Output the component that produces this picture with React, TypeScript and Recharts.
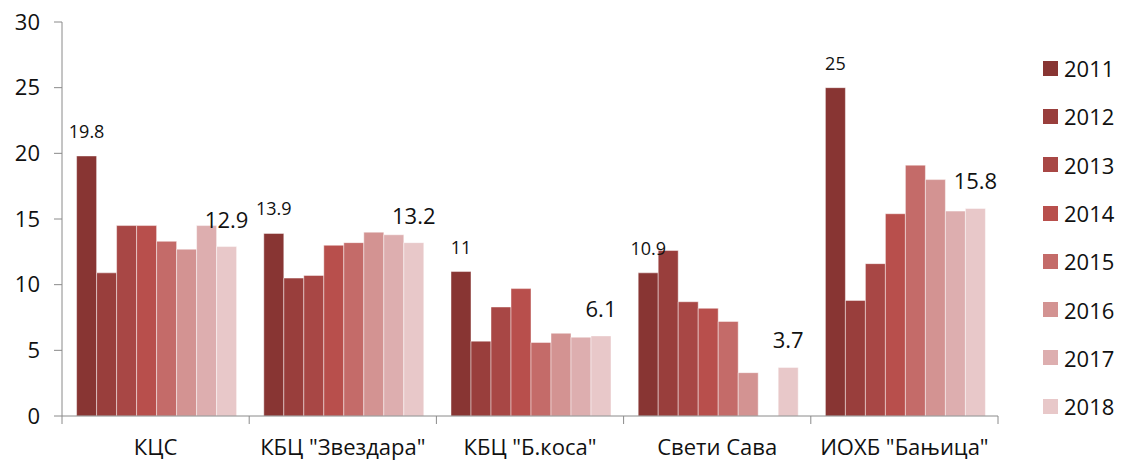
import React from 'react';
import { BarChart, Bar, XAxis, YAxis, LabelList } from 'recharts';

const categories = ['КЦС', 'КБЦ "Звездара"', 'КБЦ "Б.коса"', 'Свети Сава', 'ИОХБ "Бањица"'];
const years = ['2011', '2012', '2013', '2014', '2015', '2016', '2017', '2018'];

const v2011 = [19.8, 13.9, 11, 10.9, 25];
const v2012 = [10.9, 10.5, 5.7, 12.6, 8.8];
const v2013 = [14.5, 10.7, 8.3, 8.7, 11.6];
const v2014 = [14.5, 13.0, 9.7, 8.2, 15.4];
const v2015 = [13.3, 13.2, 5.6, 7.2, 19.1];
const v2016 = [12.7, 14.0, 6.3, 3.3, 18.0];
const v2017 = [14.5, 13.8, 6.0, null, 15.6];
const v2018 = [12.9, 13.2, 6.1, 3.7, 15.8];

const yTicks = [0, 5, 10, 15, 20, 25, 30];

const colors = ['#883533', '#993e3c', '#a84745', '#b84f4c', '#c46b69', '#d39392', '#ddaeaf', '#e8c8c9'];

const seriesValues = [v2011, v2012, v2013, v2014, v2015, v2016, v2017, v2018];

const data = categories.map((name, i) => {
  const row: Record<string, string | number | null> = { name };
  years.forEach((y, k) => {
    row[y] = seriesValues[k][i];
  });
  return row;
});

const FONT = '"Open Sans", "Noto Sans", sans-serif';
const AXIS = '#8a8a8a';
const PLOT_LEFT = 62;
const PLOT_RIGHT = 998;
const BAND = (PLOT_RIGHT - PLOT_LEFT) / categories.length;

function CategoryTick(props: any) {
  const { x, y, payload, index } = props;
  return (
    <g>
      <line x1={x - BAND / 2} x2={x - BAND / 2} y1={y} y2={y + 8} stroke={AXIS} strokeWidth={1} />
      {index === categories.length - 1 && (
        <line x1={x + BAND / 2} x2={x + BAND / 2} y1={y} y2={y + 8} stroke={AXIS} strokeWidth={1} />
      )}
      <text x={x} y={y + 39} textAnchor="middle" fill="#111" fontSize={22} fontFamily={FONT}>
        {payload.value}
      </text>
    </g>
  );
}

function YearLegend() {
  return (
    <div style={{ position: 'absolute', left: 1043, top: 44, fontFamily: FONT, fontSize: 22, color: '#111' }}>
      {years.map((y, k) => (
        <div key={y} style={{ display: 'flex', alignItems: 'center', height: 48.3 }}>
          <div style={{ width: 15, height: 15, background: colors[k], marginRight: 6 }} />
          <span style={{ lineHeight: '22px' }}>{y}</span>
        </div>
      ))}
    </div>
  );
}

export default function App() {
  return (
    <div style={{ position: 'absolute', left: 0, top: 0, width: 1122, height: 464, background: '#fff' }}>
      <BarChart
        width={1122}
        height={464}
        data={data}
        margin={{ top: 22, right: 1122 - PLOT_RIGHT, bottom: 0, left: 0 }}
        barCategoryGap="7.8%"
        barGap={0}
      >
        <XAxis
          dataKey="name"
          height={48}
          stroke={AXIS}
          tickLine={false}
          tickSize={0}
          tickMargin={0}
          tick={<CategoryTick />}
          interval={0}
        />
        <YAxis
          width={PLOT_LEFT}
          domain={[0, 30]}
          ticks={yTicks}
          stroke={AXIS}
          tickSize={8}
          tickMargin={14}
          tick={{ fill: '#111', fontSize: 22, fontFamily: FONT }}
          allowDataOverflow
        />
        {years.map((y, k) => (
          <Bar
            key={y}
            dataKey={y}
            fill={colors[k]}
            stroke="rgba(255,255,255,0.45)"
            strokeWidth={1}
            isAnimationActive={false}
          >
            {k === 0 && (
              <LabelList dataKey={y} position="top" offset={18} fill="#111" fontSize={18} fontFamily={FONT} />
            )}
            {k === years.length - 1 && (
              <LabelList dataKey={y} position="top" offset={19} fill="#111" fontSize={22} fontFamily={FONT} />
            )}
          </Bar>
        ))}
      </BarChart>
      <YearLegend />
    </div>
  );
}
